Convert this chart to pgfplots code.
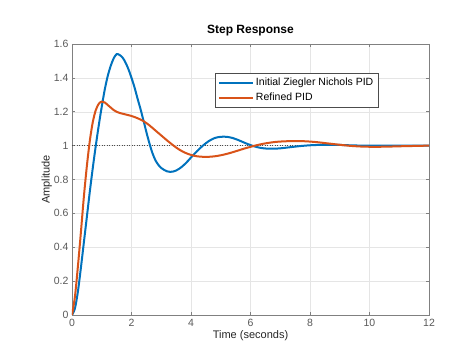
\documentclass[border=0pt]{standalone}
\usepackage{pgfplots}
\pgfplotsset{compat=1.18}
\usepackage{fontspec}
\setmainfont{Liberation Sans}
\definecolor{mblue}{rgb}{0,0.447,0.741}
\definecolor{morange}{rgb}{0.85,0.325,0.098}
\definecolor{axgray}{gray}{0.5}
\definecolor{tickgray}{gray}{0.35}
\pgfplotsset{
  mylegend/.style={legend image code/.code={\draw[##1, line width=2pt] (0pt,0pt) -- (34pt,0pt);}},
}
\begin{document}
\begin{tikzpicture}
\begin{axis}[
  scale only axis,
  width=357pt, height=271pt,
  xmin=0, xmax=12, ymin=0, ymax=1.6,
  xtick={0,2,...,12},
  ytick={0,0.2,...,1.6},
  yticklabel style={/pgf/number format/fixed,/pgf/number format/precision=1},
  /pgf/number format/assume math mode=true,
  tick label style={font=\fontsize{10.5}{12}\selectfont, text=tickgray},
  xticklabel style={yshift=-1pt},
  grid=major,
  major grid style={gray!20, line width=0.4pt},
  axis line style={axgray, line width=0.6pt},
  tick style={axgray, line width=0.6pt},
  tick align=inside,
  major tick length=3pt,
  title={\bfseries Step Response},
  title style={font=\fontsize{12}{14}\selectfont, yshift=-2pt},
  xlabel={Time (seconds)},
  ylabel={Amplitude},
  label style={font=\fontsize{11}{13}\selectfont, text=black!85},
  xlabel style={yshift=3pt},
  ylabel style={yshift=-5pt},
  legend style={at={(0.40,0.893)}, anchor=north west, draw=black!70,
    font=\fontsize{10.5}{12}\selectfont, row sep=2pt, inner sep=3pt},
  legend cell align=left,
]
\addplot[black!70, dotted, line width=0.5pt, forget plot] coordinates {(0,1) (12,1)};
\addplot[mblue, line width=2pt, smooth, mylegend] coordinates {
(0,0) (0.1,0.04) (0.2,0.14) (0.3,0.28) (0.4,0.43) (0.5,0.58) (0.6,0.73) (0.7,0.87)
(0.8,1.00) (0.9,1.12) (1.0,1.23) (1.1,1.33) (1.2,1.41) (1.3,1.47) (1.4,1.515) (1.5,1.54)
(1.6,1.535) (1.7,1.52) (1.8,1.49) (1.9,1.45) (2.0,1.40) (2.1,1.345) (2.2,1.28)
(2.3,1.218) (2.4,1.15) (2.5,1.08) (2.6,1.015) (2.7,0.958) (2.8,0.915) (2.9,0.887)
(3.0,0.868) (3.1,0.856) (3.2,0.848) (3.3,0.845) (3.4,0.847) (3.5,0.853) (3.6,0.863)
(3.7,0.876) (3.8,0.892) (3.9,0.91) (4.0,0.93) (4.2,0.967) (4.4,1.0) (4.6,1.027)
(4.8,1.045) (5.0,1.052) (5.2,1.052) (5.4,1.045) (5.6,1.032) (5.8,1.017) (6.0,1.003)
(6.2,0.992) (6.4,0.985) (6.6,0.982) (6.8,0.982) (7.0,0.984) (7.3,0.99) (7.6,0.996)
(8.0,1.002) (8.5,1.005) (9.0,1.004) (9.5,1.001) (10,1.0) (11,1.0) (12,1.0)
};
\addlegendentry{Initial Ziegler Nichols PID}
\addplot[morange, line width=2pt, smooth, mylegend] coordinates {
(0,0) (0.1,0.11) (0.2,0.29) (0.3,0.49) (0.4,0.70) (0.5,0.88) (0.6,1.03) (0.7,1.14)
(0.8,1.21) (0.9,1.247) (1.0,1.26) (1.1,1.255) (1.2,1.24) (1.3,1.225) (1.4,1.21)
(1.5,1.20) (1.6,1.193) (1.8,1.184) (2.0,1.175) (2.2,1.162) (2.4,1.145) (2.6,1.12)
(2.8,1.09) (3.0,1.06) (3.2,1.03) (3.4,1.002) (3.6,0.977) (3.8,0.958) (4.0,0.945)
(4.2,0.937) (4.4,0.934) (4.6,0.934) (4.8,0.937) (5.0,0.943) (5.2,0.951) (5.4,0.961)
(5.6,0.972) (5.8,0.983) (6.0,0.993) (6.2,1.002) (6.4,1.01) (6.6,1.016) (6.8,1.021)
(7.0,1.024) (7.4,1.027) (7.8,1.026) (8.2,1.021) (8.6,1.013) (9.0,1.005) (9.4,0.998)
(9.8,0.994) (10.2,0.993) (10.6,0.994) (11.0,0.996) (11.5,0.998) (12,1.0)
};
\addlegendentry{Refined PID}
\end{axis}
\path (current axis.south west) ++(-72pt,-40pt) coordinate (bbsw);
\path (current axis.north east) ++(45pt,44pt) coordinate (bbne);
\useasboundingbox (bbsw) rectangle (bbne);
\end{tikzpicture}
\end{document}
